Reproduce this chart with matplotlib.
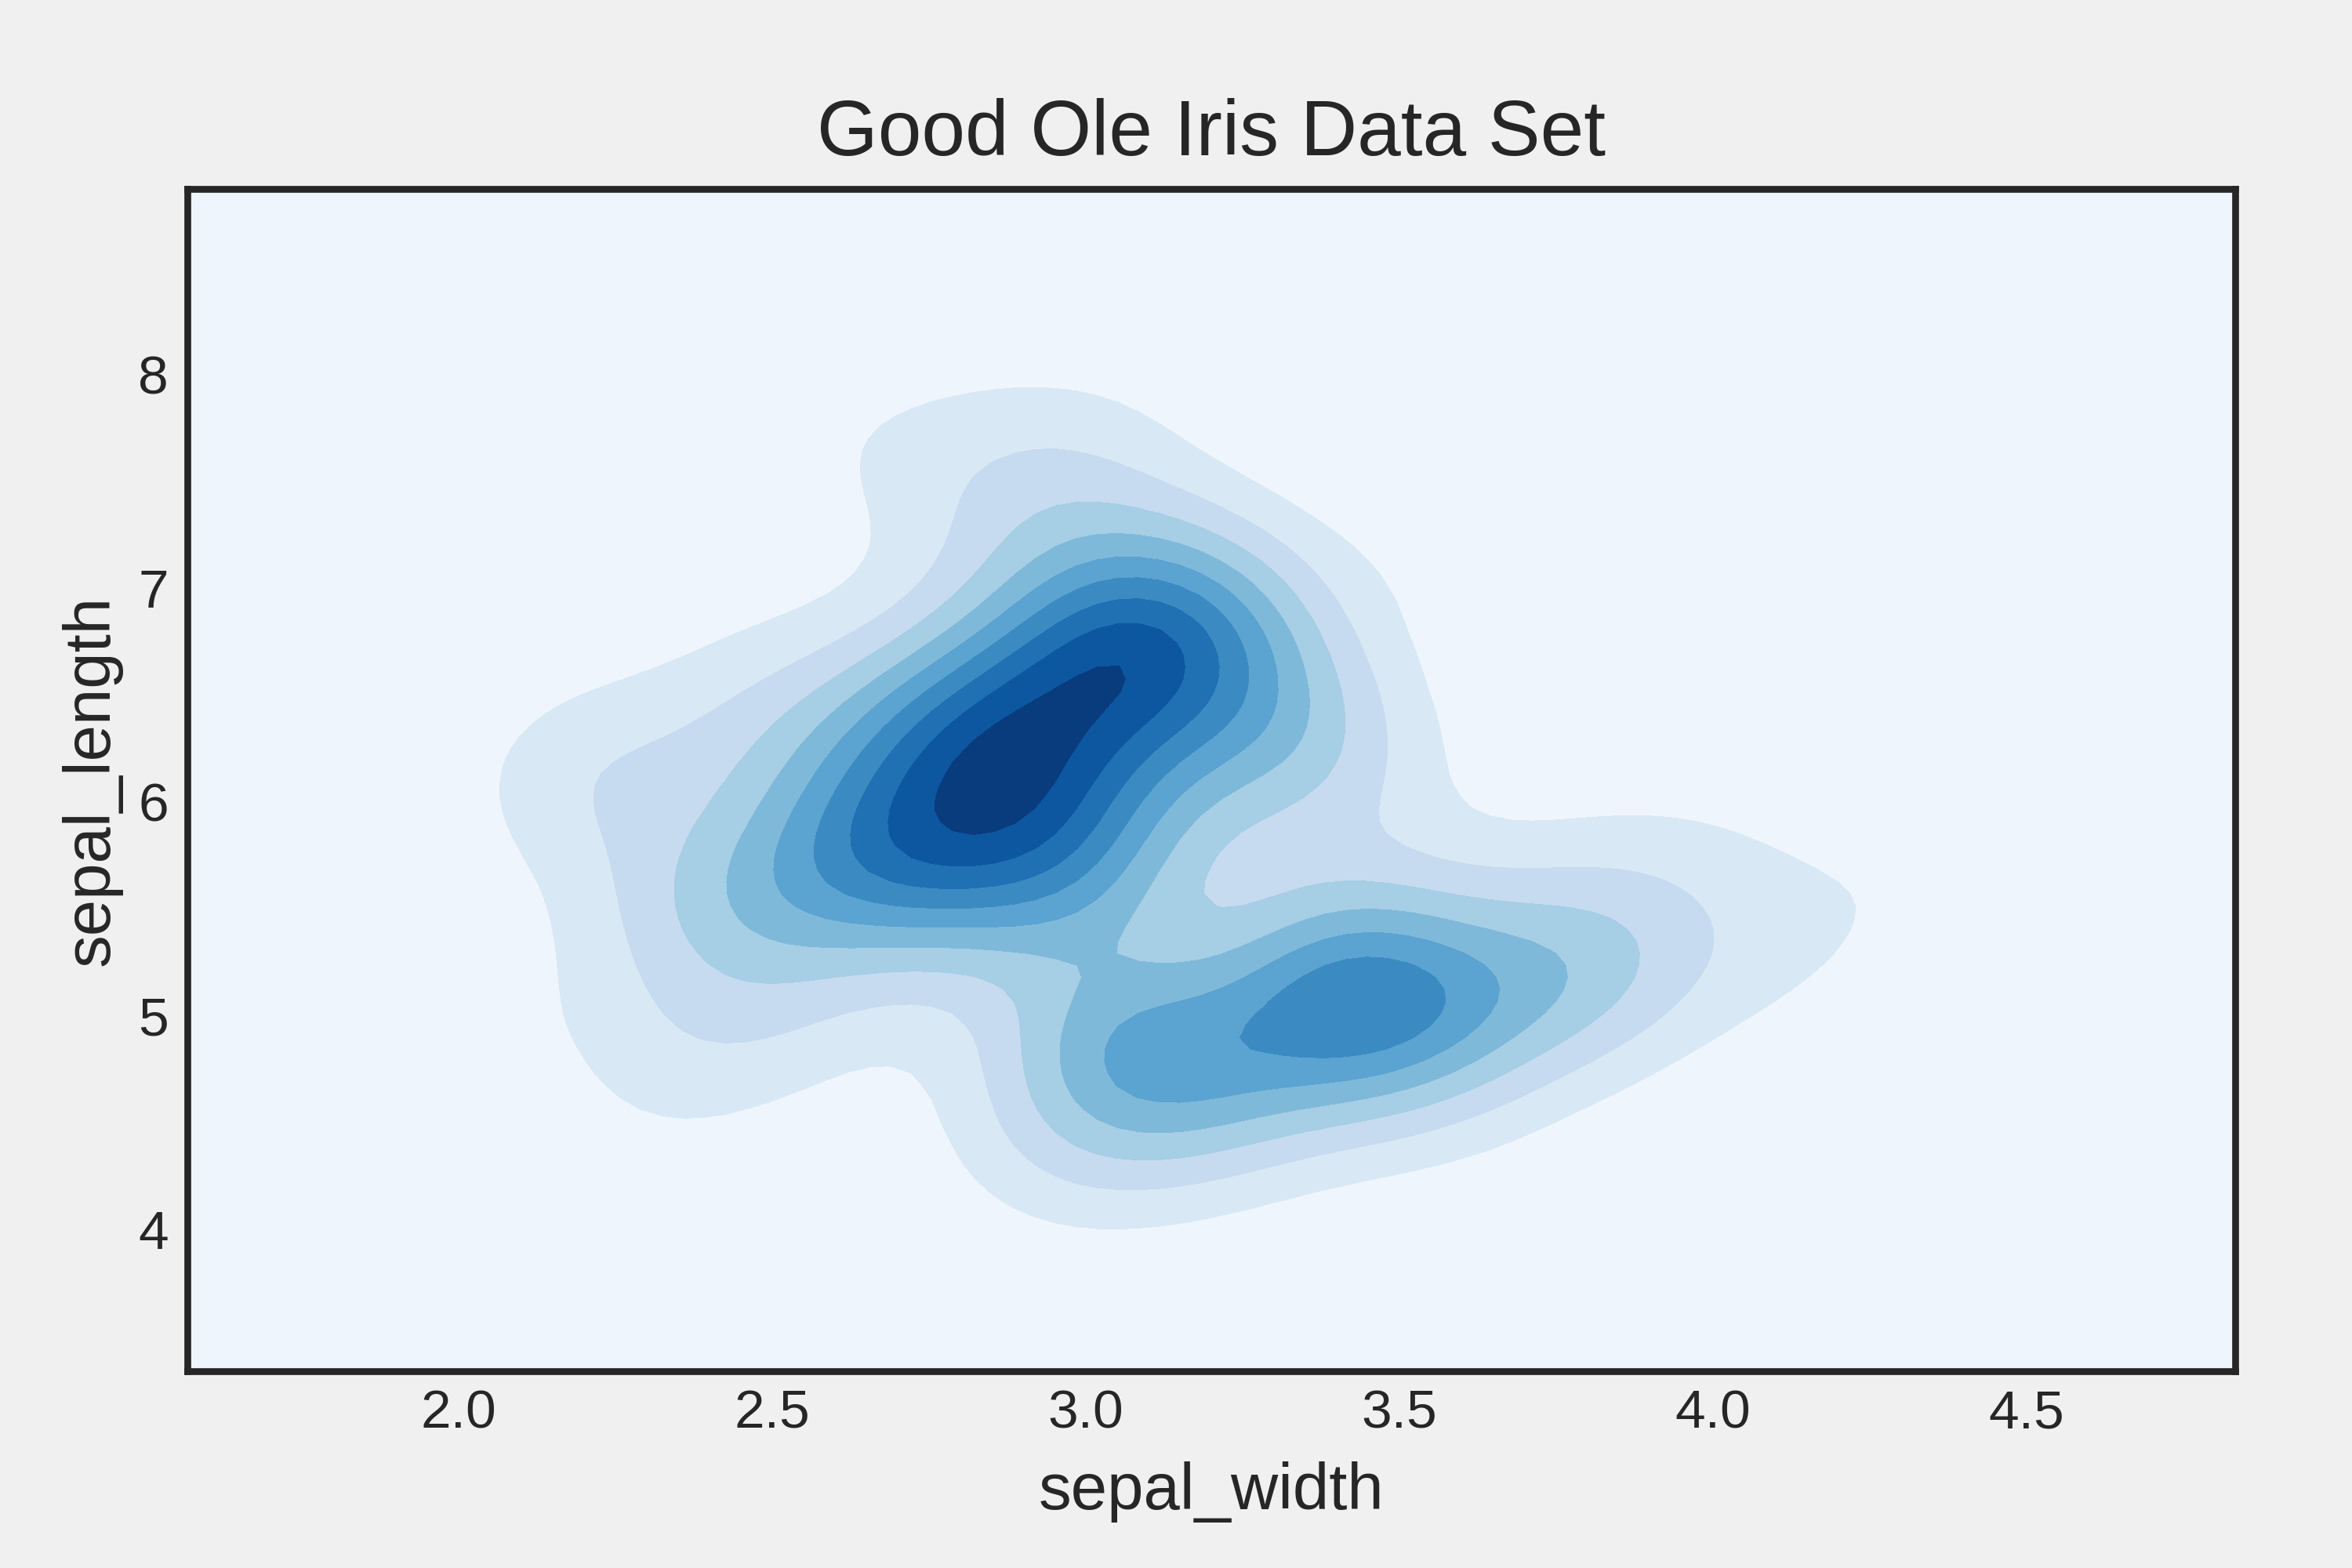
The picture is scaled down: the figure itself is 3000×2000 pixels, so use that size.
# -*- coding: utf-8 -*-
import numpy as np
import matplotlib
import matplotlib.pyplot as plt
from matplotlib.colors import Normalize
matplotlib.use('Agg')

plt.rcParams['font.family'] = ['Liberation Sans', 'DejaVu Sans']

sepal_length = [
    5.1, 4.9, 4.7, 4.6, 5.0, 5.4, 4.6, 5.0, 4.4, 4.9, 5.4, 4.8, 4.8, 4.3, 5.8, 5.7, 5.4, 5.1, 5.7, 5.1, 5.4, 5.1, 4.6, 5.1, 4.8,
    5.0, 5.0, 5.2, 5.2, 4.7, 4.8, 5.4, 5.2, 5.5, 4.9, 5.0, 5.5, 4.9, 4.4, 5.1, 5.0, 4.5, 4.4, 5.0, 5.1, 4.8, 5.1, 4.6, 5.3, 5.0,
    7.0, 6.4, 6.9, 5.5, 6.5, 5.7, 6.3, 4.9, 6.6, 5.2, 5.0, 5.9, 6.0, 6.1, 5.6, 6.7, 5.6, 5.8, 6.2, 5.6, 5.9, 6.1, 6.3, 6.1, 6.4,
    6.6, 6.8, 6.7, 6.0, 5.7, 5.5, 5.5, 5.8, 6.0, 5.4, 6.0, 6.7, 6.3, 5.6, 5.5, 5.5, 6.1, 5.8, 5.0, 5.6, 5.7, 5.7, 6.2, 5.1, 5.7,
    6.3, 5.8, 7.1, 6.3, 6.5, 7.6, 4.9, 7.3, 6.7, 7.2, 6.5, 6.4, 6.8, 5.7, 5.8, 6.4, 6.5, 7.7, 7.7, 6.0, 6.9, 5.6, 7.7, 6.3, 6.7,
    7.2, 6.2, 6.1, 6.4, 7.2, 7.4, 7.9, 6.4, 6.3, 6.1, 7.7, 6.3, 6.4, 6.0, 6.9, 6.7, 6.9, 5.8, 6.8, 6.7, 6.7, 6.3, 6.5, 6.2, 5.9,
]
sepal_width = [
    3.5, 3.0, 3.2, 3.1, 3.6, 3.9, 3.4, 3.4, 2.9, 3.1, 3.7, 3.4, 3.0, 3.0, 4.0, 4.4, 3.9, 3.5, 3.8, 3.8, 3.4, 3.7, 3.6, 3.3, 3.4,
    3.0, 3.4, 3.5, 3.4, 3.2, 3.1, 3.4, 4.1, 4.2, 3.1, 3.2, 3.5, 3.6, 3.0, 3.4, 3.5, 2.3, 3.2, 3.5, 3.8, 3.0, 3.8, 3.2, 3.7, 3.3,
    3.2, 3.2, 3.1, 2.3, 2.8, 2.8, 3.3, 2.4, 2.9, 2.7, 2.0, 3.0, 2.2, 2.9, 2.9, 3.1, 3.0, 2.7, 2.2, 2.5, 3.2, 2.8, 2.5, 2.8, 2.9,
    3.0, 2.8, 3.0, 2.9, 2.6, 2.4, 2.4, 2.7, 2.7, 3.0, 3.4, 3.1, 2.3, 3.0, 2.5, 2.6, 3.0, 2.6, 2.3, 2.7, 3.0, 2.9, 2.9, 2.5, 2.8,
    3.3, 2.7, 3.0, 2.9, 3.0, 3.0, 2.5, 2.9, 2.5, 3.6, 3.2, 2.7, 3.0, 2.5, 2.8, 3.2, 3.0, 3.8, 2.6, 2.2, 3.2, 2.8, 2.8, 2.7, 3.3,
    3.2, 2.8, 3.0, 2.8, 3.0, 2.8, 3.8, 2.8, 2.8, 2.6, 3.0, 3.4, 3.1, 3.0, 3.1, 3.1, 3.1, 2.7, 3.2, 3.3, 3.0, 2.5, 3.0, 3.4, 3.0,
]
x_ticks = [2.0, 2.5, 3.0, 3.5, 4.0, 4.5]
y_ticks = [4, 5, 6, 7, 8]

bg_color = '#f0f0f0'
text_color = '#262626'


def scott_bw(v):
    q75, q25 = np.percentile(v, [75, 25])
    a = min(np.std(v, ddof=1), (q75 - q25) / 1.349)
    return 1.059 * a * len(v) ** -0.2


def bivariate_kde(x, y, gridsize=100, cut=3):
    # product kernel, one bandwidth per axis
    bx, by = scott_bw(x), scott_bw(y)
    xs = np.linspace(x.min() - bx * cut, x.max() + bx * cut, gridsize)
    ys = np.linspace(y.min() - by * cut, y.max() + by * cut, gridsize)
    kx = np.exp(-0.5 * ((xs[:, None] - x) / bx) ** 2) / (bx * np.sqrt(2 * np.pi))
    ky = np.exp(-0.5 * ((ys[:, None] - y) / by) ** 2) / (by * np.sqrt(2 * np.pi))
    z = ky @ kx.T / len(x)
    return xs, ys, z


def main():
    fig = plt.figure(figsize=(12, 8), dpi=250, facecolor=bg_color)
    ax = fig.add_axes([125 / 1568, 1 - 914 / 1045, (1490 - 125) / 1568, (914 - 126) / 1045])

    xs, ys, z = bivariate_kde(np.array(sepal_width), np.array(sepal_length))
    levels = matplotlib.ticker.MaxNLocator(10).tick_values(z.min(), z.max())
    levels = levels[levels <= z.max() + levels[1]]
    ax.contourf(xs, ys, z, levels=levels, cmap='Blues',
                norm=Normalize(vmin=levels[0], vmax=levels[-1]))

    ax.set_xlim(xs[0], xs[-1])
    ax.set_ylim(ys[0], ys[-1])
    ax.set_xticks(x_ticks)
    ax.set_yticks(y_ticks)
    ax.tick_params(axis='x', length=0, labelsize=20, labelcolor=text_color, pad=6.5)
    ax.tick_params(axis='y', length=0, labelsize=20, labelcolor=text_color, pad=7)
    for s in ax.spines.values():
        s.set_linewidth(2.5)
        s.set_color(text_color)

    ax.set_title('Good Ole Iris Data Set', fontsize=28.8, color=text_color, pad=12.5)
    ax.set_xlabel('sepal_width', fontsize=24, color=text_color, labelpad=8)
    ax.set_ylabel('sepal_length', fontsize=24, color=text_color, labelpad=6)

    fig.savefig('out.png', facecolor=bg_color)


if __name__ == "__main__":
    main()
